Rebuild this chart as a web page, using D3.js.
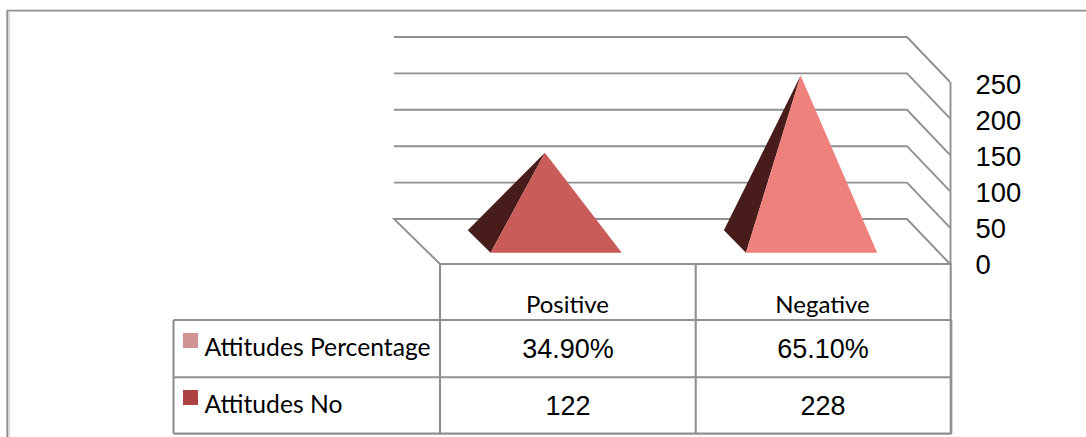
<!DOCTYPE html>
<html><head><meta charset="utf-8">
<script src="https://cdn.jsdelivr.net/npm/d3@7/dist/d3.min.js"></script>
<style>html,body{margin:0;padding:0;background:#fff;overflow:hidden}svg{display:block}</style>
</head><body><svg id="c" width="1086" height="437"></svg>
<script>
const categories = ["Positive", "Negative"];
const attitudesNo = [122, 228];
const attitudesPercentage = ["34.90%", "65.10%"];
const seriesNames = ["Attitudes Percentage", "Attitudes No"];
const tickValues = [0, 50, 100, 150, 200, 250];
const frontColors = ["#c95c59", "#ef817d"];
const swatchColors = ["#d09394", "#ac4342"];

const GRID = "#8f8f8f", DARK = "#471c1a";
const svg = d3.select("#c");
const x = d3.scaleBand().domain(categories).range([440, 950]);
const y = d3.scaleLinear().domain([0, 250]).range([264, 82]);
const labelY = d3.scaleLinear().domain([0, 250]).range([264, 83.5]);
const depthX = 46, depthY = 45, persp = 0.0059;
const halfW = 65.5;
const proj = (px, d, v) => [440 - depthX * d + (px - 440) * (1 + persp * d), y(v) - depthY * d];
const line = d3.line();

// outer frame
svg.append("line").attr("x1", 9).attr("x2", 9).attr("y1", 12).attr("y2", 437).attr("stroke", "#c9c9c9").attr("stroke-width", 1.4);
svg.append("path").attr("d", "M7.2,437V10.6H1086").attr("fill", "none").attr("stroke", GRID).attr("stroke-width", 1.7);

// gridlines: back wall + right side wall
tickValues.forEach(v => {
  const pts = [proj(x.range()[0], 1, v), proj(x.range()[1], 1, v), proj(x.range()[1], 0, v)];
  if (v === 0) pts.unshift(proj(x.range()[0], 0, v));
  svg.append("path").attr("d", line(pts)).attr("fill", "none").attr("stroke", GRID).attr("stroke-width", 1.9);
});
svg.append("line").attr("x1", 950.5).attr("x2", 950.5).attr("y1", y(250)).attr("y2", y(0)).attr("stroke", GRID).attr("stroke-width", 1.9);

// pyramids
categories.forEach((c, i) => {
  const cx = x(c) + x.bandwidth() / 2;
  const apex = proj(cx, 0.5, attitudesNo[i]);
  const fl = proj(cx - halfW, 0.25, 0);
  const fr = proj(cx + halfW, 0.25, 0);
  const bl = proj(cx - halfW, 0.75, 0);
  svg.append("path").attr("d", line([bl, fl, apex]) + "Z").attr("fill", DARK);
  svg.append("path").attr("d", line([fl, fr, apex]) + "Z").attr("fill", frontColors[i]);
});

// data table
const colX = [173.5, 440, 695.7, 950.7];
const rowY = [264, 320, 377.2, 433.6];
const tableLines = [];
rowY.forEach((ry, r) => tableLines.push([[r === 0 ? 440 : 173.5, ry], [951.5, ry]]));
colX.forEach((cxv, k) => tableLines.push([[cxv, k === 0 ? 320 : 264], [cxv, 433.6]]));
tableLines.push([[951.3, 320], [951.3, 433.6]]);
svg.append("g").selectAll("path").data(tableLines).join("path")
  .attr("d", d => line(d)).attr("fill", "none").attr("stroke", GRID).attr("stroke-width", 2.1);

const CAL = "Lato, Carlito, sans-serif", ARIAL = "'Liberation Sans', Arial, sans-serif";
categories.forEach(c => {
  svg.append("text").attr("x", x(c) + x.bandwidth() / 2).attr("y", 313).attr("text-anchor", "middle")
    .attr("font-family", CAL).attr("font-size", 24).attr("fill", "#000").text(c);
});
[attitudesPercentage, attitudesNo].forEach((row, r) => {
  row.forEach((val, i) => {
    svg.append("text").attr("x", x(categories[i]) + x.bandwidth() / 2 + 0.5).attr("y", [358, 415][r]).attr("text-anchor", "middle")
      .attr("font-family", ARIAL).attr("font-size", 27).attr("fill", "#000").text(val);
  });
});
seriesNames.forEach((s, r) => {
  svg.append("rect").attr("x", 183).attr("y", [333, 390][r]).attr("width", 15).attr("height", 15).attr("fill", swatchColors[r]);
  svg.append("text").attr("x", 204.5).attr("y", [356, 413][r]).attr("font-family", CAL).attr("font-size", 24.7).attr("fill", "#000").text(s);
});

// value axis
const axis = d3.axisRight(labelY).tickValues(tickValues).tickSize(0).tickPadding(0);
const gAxis = svg.append("g").attr("transform", "translate(975.5,0)").call(axis);
gAxis.select(".domain").remove();
gAxis.selectAll("text").attr("font-family", ARIAL).attr("font-size", 27.4).attr("fill", "#000").attr("x", 0).attr("dy", "0.36em");
</script></body></html>
